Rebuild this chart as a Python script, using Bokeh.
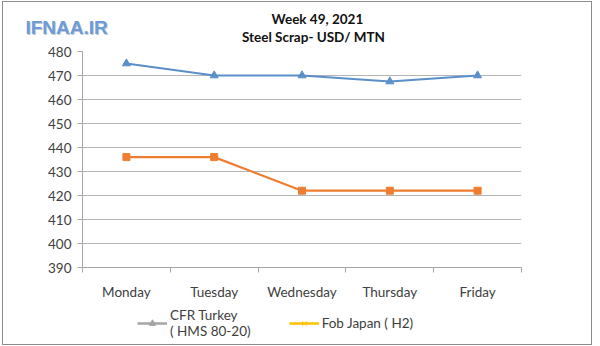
from bokeh.plotting import figure
from bokeh.layouts import column
from bokeh.models import (FixedTicker, Legend, LegendItem, ColumnDataSource, Range1d)
from bokeh.core.properties import value
from bokeh.embed import file_html
from bokeh.resources import INLINE

days = ["Monday", "Tuesday", "Wednesday", "Thursday", "Friday"]
cfr_turkey = [475, 470, 470, 467.5, 470]
fob_japan = [436, 436, 422, 422, 422]
y_ticks = [390, 400, 410, 420, 430, 440, 450, 460, 470, 480]
title_lines = ["Week 49, 2021", "Steel Scrap- USD/ MTN"]
logo_text = "IFNAA.IR"
legend_labels = ["CFR Turkey\n( HMS 80-20)", "Fob Japan ( H2)"]

FONT = "Lato"
GRAY = "#a6a6a6"
TXT = "#404040"
W = 590
TOP_H, MAIN_H, BOT_H = 43, 257, 42
xs = list(range(len(days)))


def bare(height, y0):
    f = figure(width=W, height=height, output_backend="svg", toolbar_location=None,
               x_axis_location=None, y_axis_location=None, frame_align=False,
               x_range=Range1d(3, 3 + W), y_range=Range1d(y0 + height, y0),
               min_border=0, min_border_left=0, min_border_right=0,
               min_border_top=0, min_border_bottom=0, outline_line_color=None,
               background_fill_color="white", border_fill_color="white")
    f.grid.visible = False
    return f


# ---- top: logo + title (page coordinates) ----
top = bare(TOP_H, 2)
top.text(x=[26], y=[28], text=[logo_text], text_font=value("Liberation Sans"),
         text_font_style="bold", text_font_size="19px", text_baseline="middle",
         text_color="#c3ccd6")
top.text(x=[25], y=[27], text=[logo_text], text_font=value("Liberation Sans"),
         text_font_style="bold", text_font_size="19px", text_baseline="middle",
         text_color="#6d9bd6")
top.text(x=[318, 314], y=[18.5, 36], text=title_lines, text_font=value(FONT),
         text_font_style="bold", text_font_size="13.5px", text_align="center",
         text_baseline="middle", text_color="#111111")

# ---- main chart ----
p = figure(width=W, height=MAIN_H, output_backend="svg", toolbar_location=None,
           frame_align=False,
           x_range=Range1d(-0.5, len(days) - 0.5), y_range=Range1d(390, 480),
           min_border_left=79, min_border_right=70, min_border_top=6,
           min_border_bottom=MAIN_H - 6 - 217, outline_line_color=None,
           background_fill_color="white", border_fill_color="white")

p.xaxis.ticker = FixedTicker(ticks=xs, minor_ticks=[i - 0.5 for i in range(len(days) + 1)])
p.xaxis.major_label_overrides = {i: d for i, d in enumerate(days)}
p.xaxis.major_tick_out = 0
p.xaxis.major_tick_in = 0
p.xaxis.minor_tick_out = 5
p.xaxis.minor_tick_in = 0
p.xaxis.minor_tick_line_color = GRAY
p.xaxis.axis_line_color = GRAY
p.xaxis.major_label_standoff = 11
p.xaxis.major_label_text_font = FONT
p.xaxis.major_label_text_font_size = "13.5px"
p.xaxis.major_label_text_color = TXT

p.yaxis.ticker = FixedTicker(ticks=y_ticks, minor_ticks=[])
p.yaxis.major_tick_out = 5
p.yaxis.major_tick_in = 0
p.yaxis.major_tick_line_color = GRAY
p.yaxis.axis_line_color = GRAY
p.yaxis.major_label_standoff = 6
p.yaxis.major_label_text_font = FONT
p.yaxis.major_label_text_font_size = "13.5px"
p.yaxis.major_label_text_color = TXT

p.xgrid.grid_line_color = None
p.ygrid.ticker = FixedTicker(ticks=y_ticks)
p.ygrid.grid_line_color = "#b4b4b4"
p.ygrid.grid_line_width = 1

src = ColumnDataSource(dict(x=xs, cfr=cfr_turkey, fob=fob_japan))
p.line("x", "cfr", source=src, line_color="#5b8fc9", line_width=2.2)
p.scatter("x", "cfr", source=src, marker="triangle", size=8,
          fill_color="#5b8fc9", line_color="#5b8fc9")
p.line("x", "fob", source=src, line_color="#ed7d31", line_width=2.2)
p.scatter("x", "fob", source=src, marker="square", size=7,
          fill_color="#ed7d31", line_color="#ed7d31")

# ---- bottom: legend ----
bot = bare(BOT_H, 2 + TOP_H + MAIN_H)
off = ColumnDataSource(dict(x=[-100, -90], y=[-100, -100]))
l1 = bot.line("x", "y", source=off, line_color="#a5a5a5", line_width=2.5)
m1 = bot.scatter("x", "y", source=off, marker="triangle", size=7,
                 fill_color="#a5a5a5", line_color="#a5a5a5")
l2 = bot.line("x", "y", source=off, line_color="#ffc000", line_width=2.5)
m2 = bot.scatter("x", "y", source=off, marker="x", size=7, line_color="#ffc000")
legend = Legend(items=[LegendItem(label=legend_labels[0], renderers=[l1, m1]),
                       LegendItem(label=legend_labels[1], renderers=[l2, m2])],
                orientation="horizontal", location=(134, 5),
                glyph_width=30, glyph_height=16, label_height=16, label_standoff=3,
                spacing=38, label_text_font=FONT, label_text_font_size="13.5px",
                label_text_color=TXT, border_line_color=None,
                background_fill_alpha=0, padding=0, margin=0)
bot.add_layout(legend, "center")

layout = column(top, p, bot, spacing=0,
                styles={"border": "1px solid #8c8c8c", "margin-left": "2px",
                        "margin-top": "1px", "width": f"{W}px"})

open("out.html", "w").write(file_html(layout, INLINE))
